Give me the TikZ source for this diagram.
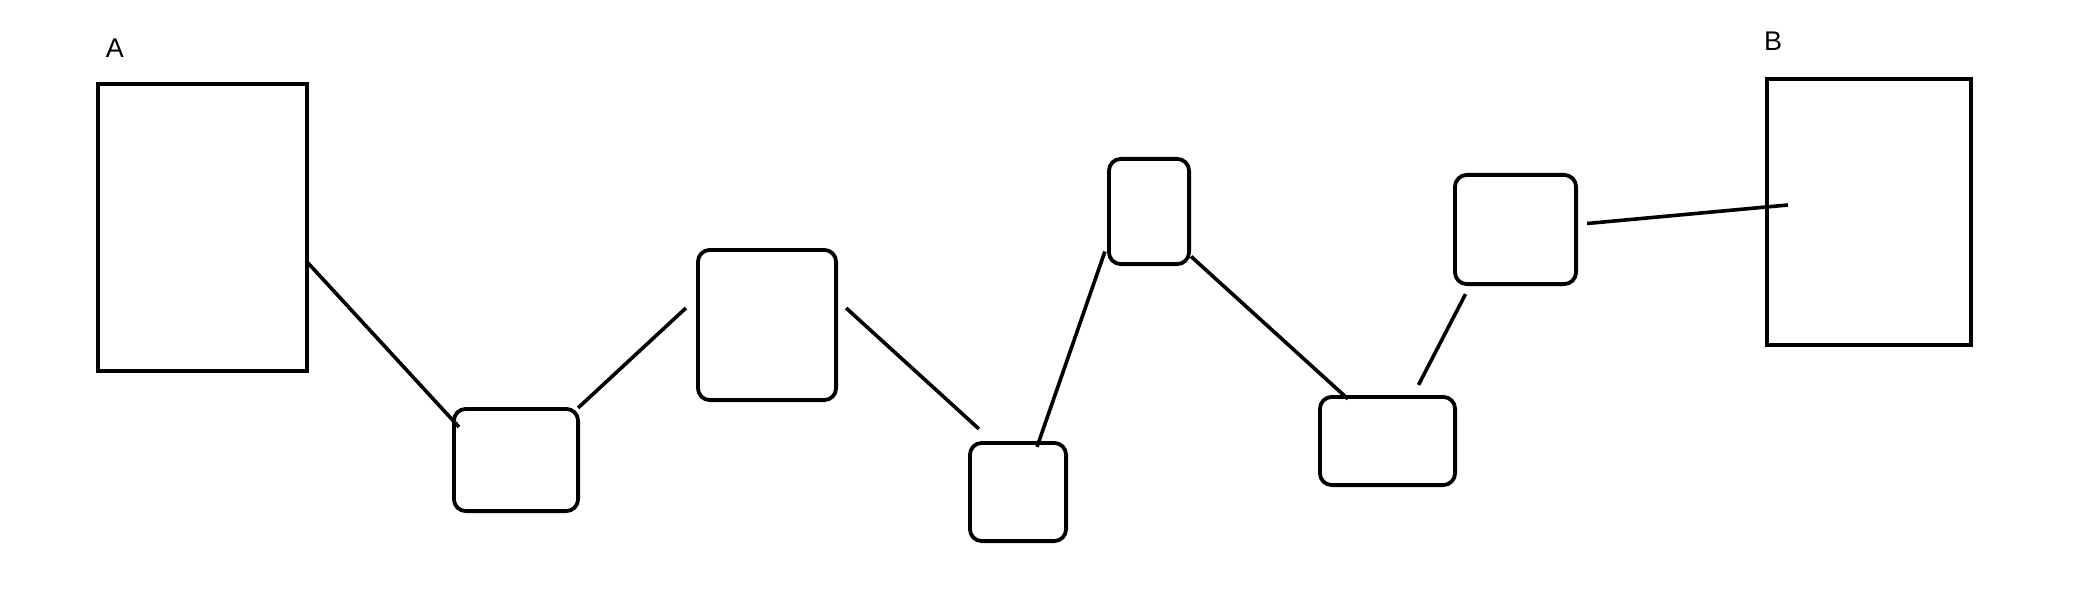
\documentclass[tikz,border=0pt]{standalone}
\usepackage{fontspec}
\setmainfont{Liberation Sans}
\begin{document}
\begin{tikzpicture}[x=1pt,y=-1pt,
  bigbox/.style={draw=black,line width=3.8pt,inner sep=0pt,outer sep=0pt,fill=none},
  smallbox/.style={draw=black,line width=3.8pt,inner sep=0pt,outer sep=0pt,rounded corners=12pt},
  link/.style={draw=black,line width=3.6pt},
  lbl/.style={inner sep=0pt,font=\fontsize{27}{30}\selectfont}]
\useasboundingbox (0,0) rectangle (2086,607);
\fill[white] (0,0) rectangle (2086,607);
% big boxes
\node[bigbox,minimum width=209.2pt,minimum height=287.2pt] (A) at (202.5,227.5) {};
\node[bigbox,minimum width=204.2pt,minimum height=266.2pt] (B) at (1869,212) {};
\node[lbl] (labA) at (115,48) {A};
\node[lbl] (labB) at (1773,41.5) {B};
% rounded boxes
\node[smallbox,minimum width=124.2pt,minimum height=102.2pt] (n1) at (516,460) {};
\node[smallbox,minimum width=138.2pt,minimum height=150.2pt] (n2) at (767,325) {};
\node[smallbox,minimum width=96.2pt,minimum height=98.2pt] (n3) at (1018,492) {};
\node[smallbox,minimum width=80.2pt,minimum height=105.2pt] (n4) at (1149,211.5) {};
\node[smallbox,minimum width=135.2pt,minimum height=88.2pt] (n5) at (1387.5,441) {};
\node[smallbox,minimum width=121.2pt,minimum height=109.2pt] (n6) at (1515.5,229.5) {};
% connectors
\draw[link] ([yshift=-34.5pt]A.east) -- ([xshift=5pt,yshift=-18pt]n1.north west);
\draw[link] ([xshift=0pt,yshift=1pt]n1.north east) -- ([xshift=-12pt,yshift=17pt]n2.west);
\draw[link] ([xshift=10pt,yshift=17pt]n2.east) -- ([xshift=9pt,yshift=14pt]n3.north west);
\draw[link] ([xshift=19pt,yshift=-4pt]n3.north) -- ([xshift=-4pt,yshift=-40pt]n4.west);
\draw[link] ([xshift=2pt,yshift=-45pt]n4.east) -- ([xshift=28pt,yshift=-2pt]n5.north west);
\draw[link] ([xshift=31pt,yshift=12pt]n5.north) -- ([xshift=-50pt,yshift=-10pt]n6.south);
\draw[link] ([xshift=11pt,yshift=6pt]n6.east) -- ([xshift=21pt,yshift=7pt]B.west);
\end{tikzpicture}
\end{document}
